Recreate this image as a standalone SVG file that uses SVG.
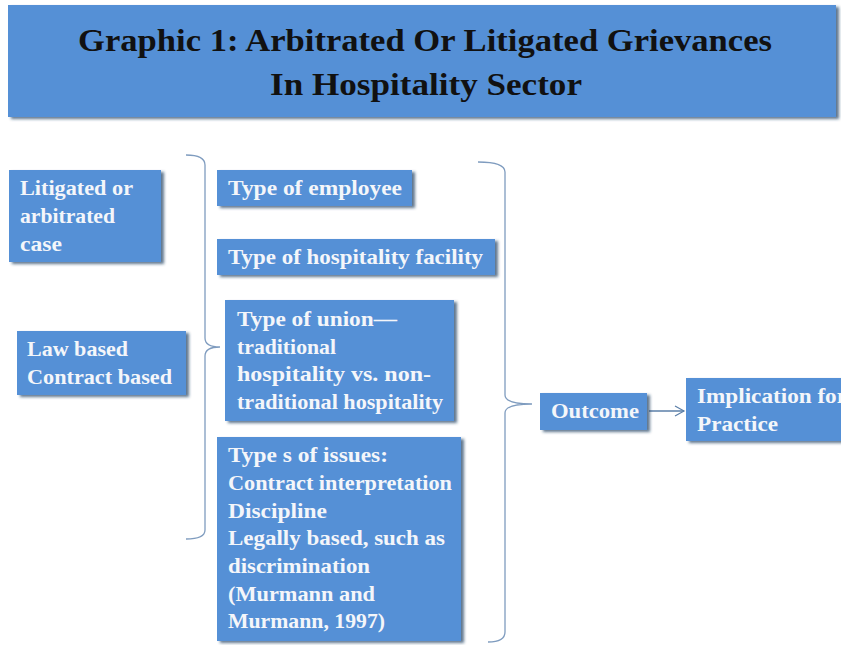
<svg xmlns="http://www.w3.org/2000/svg" width="841" height="645" viewBox="0 0 841 645">
<defs>
<filter id="sh" x="-10%" y="-10%" width="130%" height="130%">
<feDropShadow dx="3" dy="2" stdDeviation="1.5" flood-color="#1f3a5e" flood-opacity="0.7"/>
</filter>
<marker id="arr" markerWidth="12" markerHeight="12" refX="10" refY="6" orient="auto" markerUnits="userSpaceOnUse">
<path d="M1,1 L10,6 L1,11" fill="none" stroke="#5b7fa8" stroke-width="1.2"/>
</marker>
</defs>
<style>
.box{fill:#5590d6;filter:url(#sh);}
.t{font-family:"Liberation Serif",serif;font-weight:bold;font-size:21px;fill:#f4f6fa;}
.title{font-family:"Liberation Serif",serif;font-weight:bold;font-size:32px;fill:#111;text-anchor:middle;}
.br{fill:none;stroke:#7f9cbf;stroke-width:1.3;}
</style>
<rect width="841" height="645" fill="#ffffff"/>
<g id="title">
<rect class="box" x="8" y="5" width="828" height="112"/>
<text class="title" x="425" y="51" textLength="694" lengthAdjust="spacingAndGlyphs">Graphic 1:  Arbitrated Or Litigated Grievances</text>
<text class="title" x="426" y="95" textLength="312" lengthAdjust="spacingAndGlyphs">In Hospitality Sector</text>
</g>
<g id="connectors">
<path class="br" d="M186,155 Q205,155 205,165 L205,338 Q205,347 220,347 Q205,347 205,356 L205,530 Q205,539 186,539"/>
<path class="br" d="M478,162 Q505,162 505,172 L505,395 Q505,404 532,404 Q505,404 505,413 L505,632 Q505,642 488,642"/>
<line x1="649" y1="411" x2="684" y2="411" stroke="#5b7fa8" stroke-width="1.3" marker-end="url(#arr)"/>
</g>
<g id="n-litigated">
<rect class="box" x="9" y="170" width="152" height="92"/>
<text class="t" x="20" y="195" textLength="113" lengthAdjust="spacingAndGlyphs">Litigated or</text>
<text class="t" x="20" y="223" textLength="95" lengthAdjust="spacingAndGlyphs">arbitrated</text>
<text class="t" x="20" y="251" textLength="42" lengthAdjust="spacingAndGlyphs">case</text>
</g>
<g id="n-law">
<rect class="box" x="17" y="331" width="169" height="64"/>
<text class="t" x="27" y="356" textLength="101" lengthAdjust="spacingAndGlyphs">Law based</text>
<text class="t" x="27" y="384" textLength="145" lengthAdjust="spacingAndGlyphs">Contract based</text>
</g>
<g id="n-employee">
<rect class="box" x="217" y="170" width="195" height="36"/>
<text class="t" x="228" y="195" textLength="174" lengthAdjust="spacingAndGlyphs">Type of  employee</text>
</g>
<g id="n-facility">
<rect class="box" x="217" y="239" width="278" height="36"/>
<text class="t" x="228" y="264" textLength="255" lengthAdjust="spacingAndGlyphs">Type of  hospitality facility</text>
</g>
<g id="n-union">
<rect class="box" x="225" y="300" width="229" height="121"/>
<text class="t" x="237" y="326" textLength="160" lengthAdjust="spacingAndGlyphs">Type of  union—</text>
<text class="t" x="237" y="354" textLength="99" lengthAdjust="spacingAndGlyphs">traditional</text>
<text class="t" x="237" y="381" textLength="194" lengthAdjust="spacingAndGlyphs">hospitality vs. non-</text>
<text class="t" x="237" y="409" textLength="206" lengthAdjust="spacingAndGlyphs">traditional hospitality</text>
</g>
<g id="n-issues">
<rect class="box" x="217" y="437" width="244" height="204"/>
<text class="t" x="228" y="462" textLength="160" lengthAdjust="spacingAndGlyphs">Type s of  issues:</text>
<text class="t" x="228" y="490" textLength="224" lengthAdjust="spacingAndGlyphs">Contract interpretation</text>
<text class="t" x="228" y="518" textLength="99" lengthAdjust="spacingAndGlyphs">Discipline</text>
<text class="t" x="228" y="545" textLength="217" lengthAdjust="spacingAndGlyphs">Legally based, such as</text>
<text class="t" x="228" y="573" textLength="142" lengthAdjust="spacingAndGlyphs">discrimination</text>
<text class="t" x="228" y="601" textLength="147" lengthAdjust="spacingAndGlyphs">(Murmann and</text>
<text class="t" x="228" y="628" textLength="157" lengthAdjust="spacingAndGlyphs">Murmann, 1997)</text>
</g>
<g id="n-outcome">
<rect class="box" x="540" y="393" width="107" height="37"/>
<text class="t" x="551" y="418" textLength="88" lengthAdjust="spacingAndGlyphs">Outcome</text>
</g>
<g id="n-implication">
<rect class="box" x="686" y="378" width="160" height="63"/>
<text class="t" x="697" y="403" textLength="150" lengthAdjust="spacingAndGlyphs">Implication for</text>
<text class="t" x="697" y="431" textLength="81" lengthAdjust="spacingAndGlyphs">Practice</text>
</g>
</svg>
